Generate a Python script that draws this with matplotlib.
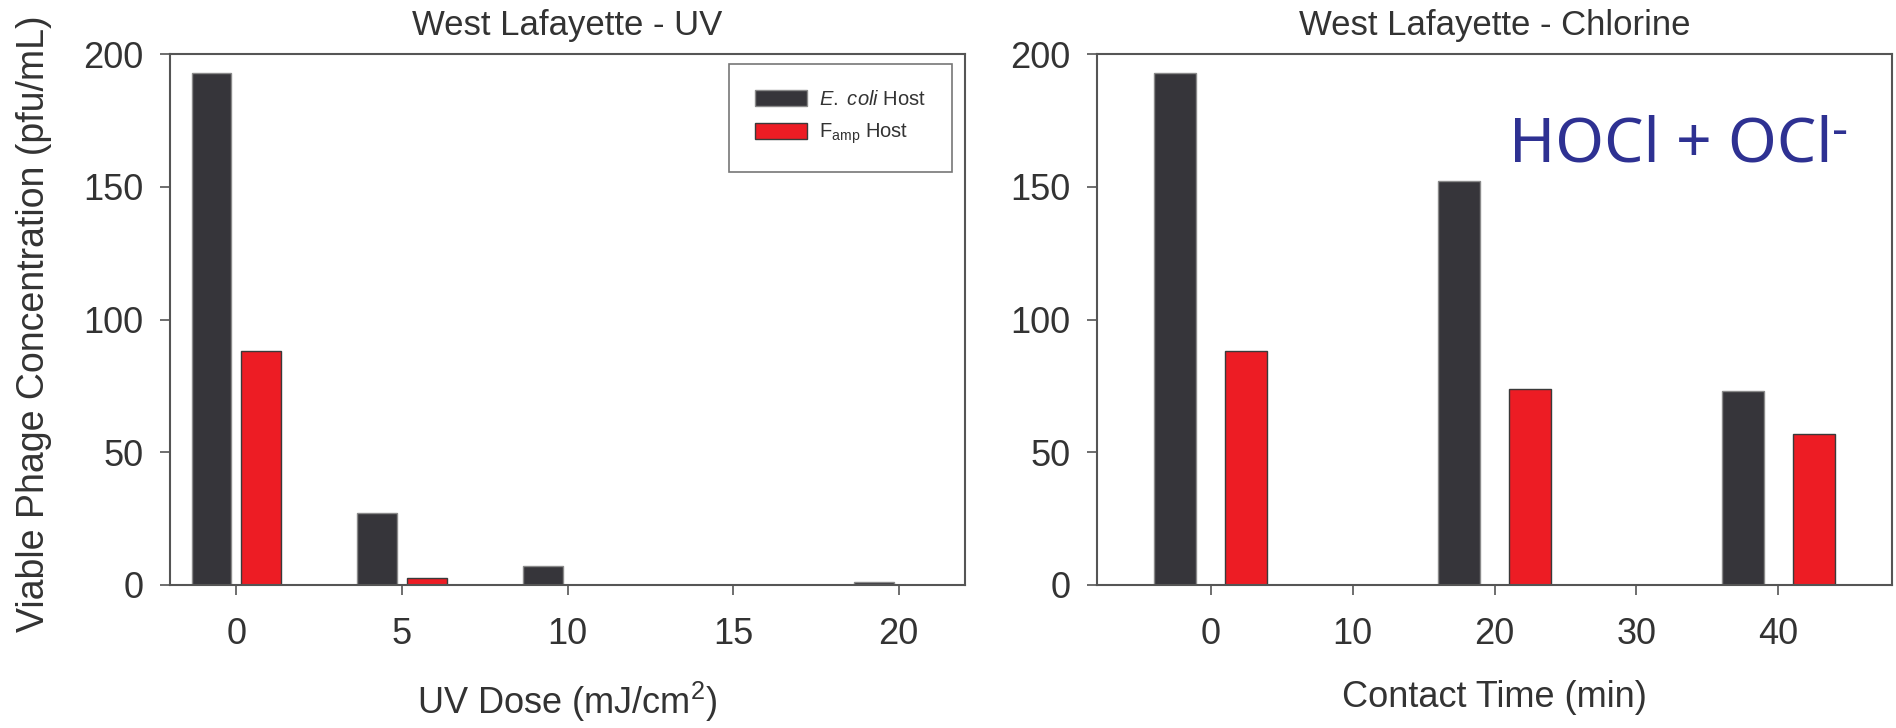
import matplotlib
matplotlib.use("Agg")
import matplotlib.pyplot as plt
import numpy as np

# ==========================================
# Data
# ==========================================
uv_dose = [0, 5, 10, 15, 20]
uv_ecoli = [193, 27, 7, 0, 1.2]
uv_famp = [88, 2.6, 0, 0, 0]

cl_time = [0, 20, 40]
cl_ecoli = [193, 152, 73]
cl_famp = [88, 74, 57]

y_ticks = [0, 50, 100, 150, 200]
uv_ticks = [0, 5, 10, 15, 20]
cl_ticks = [0, 10, 20, 30, 40]

DARK = "#36353a"
RED = "#ed1c24"
AXIS = "#555555"
TEXT = "#333333"

plt.rcParams['font.family'] = ['Liberation Sans', 'DejaVu Sans']
plt.rcParams['mathtext.fontset'] = 'custom'
plt.rcParams['mathtext.rm'] = 'Liberation Sans'
plt.rcParams['mathtext.it'] = 'Liberation Sans:italic'
plt.rcParams['mathtext.bf'] = 'Liberation Sans:bold'

fig = plt.figure(figsize=(18.96, 7.28), dpi=100)
ax1 = fig.add_axes([170 / 1896, 143 / 728, 795 / 1896, 531 / 728])
ax2 = fig.add_axes([1097 / 1896, 143 / 728, 795 / 1896, 531 / 728])


def style_axes(ax):
    for s in ax.spines.values():
        s.set_color(AXIS)
        s.set_linewidth(1.5)
    ax.tick_params(direction='out', length=7, width=1.2, color=AXIS,
                   labelsize=26, labelcolor=TEXT, top=False, right=False)
    ax.tick_params(axis='y', pad=12)
    ax.tick_params(axis='x', pad=16)
    ax.set_ylim(0, 200)
    ax.set_yticks(y_ticks)


# ==========================================
# Left panel: UV
# ==========================================
x = np.array(uv_dose, dtype=float)
ax1.bar(x - 0.75, uv_ecoli, width=1.2, color=DARK, edgecolor="#8a8a8a",
        linewidth=1, label=r"$\mathit{E.\ coli}$ Host")
ax1.bar(x + 0.75, uv_famp, width=1.2, color=RED, edgecolor="#3a3a3a",
        linewidth=1, label=r"F$_{\mathrm{amp}}$ Host")
ax1.set_xlim(-2, 22)
ax1.set_xticks(uv_ticks)
style_axes(ax1)
ax1.set_title("West Lafayette - UV", fontsize=25, color=TEXT, pad=14)
ax1.set_xlabel(r"UV Dose (mJ/cm$^{2}$)", fontsize=26, color=TEXT, labelpad=20)
ax1.set_ylabel("Viable Phage Concentration (pfu/mL)", fontsize=27, color=TEXT)
ax1.yaxis.set_label_coords(-0.148, 0.493)
leg = ax1.legend(loc='upper right', bbox_to_anchor=(0.984, 0.981),
                 fontsize=14.5, frameon=True, fancybox=False,
                 edgecolor=AXIS, borderpad=1.3, labelspacing=0.6,
                 handlelength=2.6, handleheight=0.85, handletextpad=0.6,
                 borderaxespad=0)
leg.get_frame().set_linewidth(1.2)
for t in leg.get_texts():
    t.set_color(TEXT)

# ==========================================
# Right panel: Chlorine
# ==========================================
t = np.array(cl_time, dtype=float)
ax2.bar(t - 2.5, cl_ecoli, width=3, color=DARK, edgecolor="#8a8a8a", linewidth=1)
ax2.bar(t + 2.5, cl_famp, width=3, color=RED, edgecolor="#3a3a3a", linewidth=1)
ax2.set_xlim(-8, 48)
ax2.set_xticks(cl_ticks)
style_axes(ax2)
ax2.set_title("West Lafayette - Chlorine", fontsize=25, color=TEXT, pad=14)
ax2.set_xlabel("Contact Time (min)", fontsize=26, color=TEXT, labelpad=20)
ax2.text(0.518, 0.797, "HOCl + OCl", transform=ax2.transAxes,
         ha='left', va='baseline', fontsize=45, color="#2e3192",
         family='Noto Sans')
ax2.text(0.9245, 0.829, "-", transform=ax2.transAxes,
         ha='left', va='baseline', fontsize=36, color="#2e3192",
         family='Noto Sans')

fig.savefig("out.png", dpi=100)
